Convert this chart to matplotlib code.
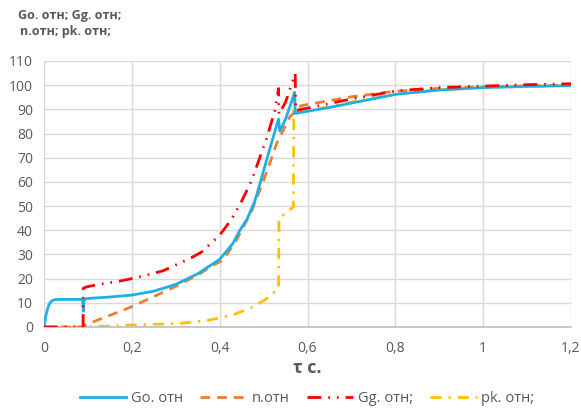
import numpy as np
import matplotlib
matplotlib.use('Agg')
import matplotlib.pyplot as plt

plt.rcParams['font.family'] = ['Open Sans', 'DejaVu Sans']

# Go. отн (solid blue)
go_x = [0, 0.004, 0.008, 0.012, 0.016, 0.02, 0.025, 0.035, 0.05, 0.088, 0.0895, 0.091, 0.094,
        0.1, 0.15, 0.2, 0.25, 0.3, 0.35, 0.386, 0.4, 0.43, 0.446, 0.462, 0.48, 0.492, 0.511,
        0.534, 0.537, 0.55, 0.571, 0.572, 0.6, 0.65, 0.7, 0.8, 0.9, 1.0, 1.1, 1.2]
go_y = [0, 4.5, 7.5, 9.4, 10.5, 11.0, 11.3, 11.4, 11.4, 11.4, 6.5, 10.8, 11.6,
        11.8, 12.4, 13.2, 14.8, 17.6, 22.0, 26.3, 28.0, 34.5, 40.0, 44.5, 52.0, 59.4, 71.7,
        86.0, 81.0, 86.0, 97.0, 88.3, 89.2, 90.8, 92.6, 96.2, 98.0, 99.0, 99.5, 99.8]

# n.отн (dashed orange)
n_x = [0, 0.088, 0.092, 0.1, 0.15, 0.2, 0.25, 0.3, 0.35, 0.386, 0.408, 0.44, 0.473, 0.503,
       0.53, 0.56, 0.572, 0.585, 0.6, 0.65, 0.7, 0.8, 0.9, 1.0, 1.1, 1.2]
n_y = [0, 0, 0.5, 1.3, 4.8, 8.4, 12.6, 16.8, 21.5, 25.6, 27.7, 36.5, 48.0, 62.0,
       76.0, 87.0, 89.0, 91.5, 92.0, 93.6, 95.2, 97.5, 98.7, 99.3, 99.7, 100.0]

# Gg. отн; (dash-dot-dot red)
gg_x = [0, 0.089, 0.0895, 0.097, 0.13, 0.173, 0.22, 0.272, 0.333, 0.359, 0.4, 0.427, 0.45,
        0.473, 0.507, 0.526, 0.534, 0.535, 0.55, 0.572, 0.573, 0.6, 0.65, 0.7, 0.8, 0.9,
        1.0, 1.1, 1.2]
gg_y = [0, 0, 16.0, 16.6, 17.8, 19.0, 20.8, 23.3, 28.4, 31.0, 38.0, 44.5, 52.0,
        60.7, 78.0, 89.7, 98.6, 88.0, 93.0, 104.8, 89.5, 90.5, 92.4, 94.3, 97.6, 99.0,
        99.6, 100.2, 100.6]

# pk. отн; (dash-dot yellow)
pk_x = [0, 0.09, 0.1, 0.15, 0.196, 0.25, 0.31, 0.37, 0.43, 0.469, 0.503, 0.53, 0.534,
        0.535, 0.55, 0.568, 0.569, 0.5695, 0.57, 0.6, 0.65, 0.7, 0.8, 0.9, 1.0, 1.1, 1.2]
pk_y = [0, 0, 0.1, 0.4, 0.8, 1.1, 1.5, 2.6, 5.0, 7.7, 11.2, 15.3, 16.0,
        45.0, 47.0, 49.7, 97.0, 89.0, 89.0, 89.5, 91.0, 93.0, 96.3, 98.1, 99.0, 99.5, 99.8]

fig = plt.figure(figsize=(5.81, 4.12), dpi=100)
ax = fig.add_axes([44 / 581, 1 - 327 / 412, 527 / 581, 266 / 412])

grey = '#595959'
ax.plot(go_x, go_y, color='#1CB0E6', lw=2.0, label='Go. отн', zorder=4)
ax.plot(n_x, n_y, color='#ED7D31', lw=2.0, ls=(0, (3.5, 2.5)), label='n.отн', zorder=3)
ax.plot(gg_x, gg_y, color='#FF0000', lw=2.0,
        ls=(0, (5, 2.5, 0.6, 2.5, 0.6, 2.5)), label='Gg. отн;', zorder=5)
ax.plot(pk_x, pk_y, color='#FFC000', lw=2.0, ls=(0, (4, 2.5, 0.8, 2.5)),
        label='pk. отн;', zorder=2)

ax.set_xlim(0, 1.2)
ax.set_ylim(0, 110)
xt = [0, 0.2, 0.4, 0.6, 0.8, 1.0, 1.2]
ax.set_xticks(xt)
ax.set_xticklabels(['0', '0,2', '0,4', '0,6', '0,8', '1', '1,2'])
ax.set_yticks(np.arange(0, 111, 10))
ax.tick_params(axis='both', length=0, labelsize=10, colors=grey)
ax.tick_params(axis='x', pad=10)
ax.tick_params(axis='y', pad=8)
ax.grid(True, color='#D9D9D9', lw=1.0)
ax.set_axisbelow(True)
for s in ['top', 'right', 'left']:
    ax.spines[s].set_visible(False)
ax.spines['bottom'].set_color('#BFBFBF')
ax.spines['bottom'].set_linewidth(1.2)

fig.text(70 / 581, 1 - 15 / 412, 'Go. отн; Gg. отн;', ha='center', va='center',
         fontsize=9, fontweight='bold', color=grey)
fig.text(66 / 581, 1 - 31 / 412, 'n.отн; pk. отн;', ha='center', va='center',
         fontsize=9, fontweight='bold', color=grey)
fig.text(307 / 581, 1 - 368 / 412, 'τ c.', ha='center', va='center',
         fontsize=13, fontweight='bold', color=grey)

leg = fig.legend(loc='center', bbox_to_anchor=(307 / 581, 1 - 399 / 412), ncol=4,
                 frameon=False, fontsize=10.5, handlelength=3.2, columnspacing=1.2,
                 handletextpad=0.3)
for t in leg.get_texts():
    t.set_color(grey)

fig.savefig('out.png', dpi=100)
